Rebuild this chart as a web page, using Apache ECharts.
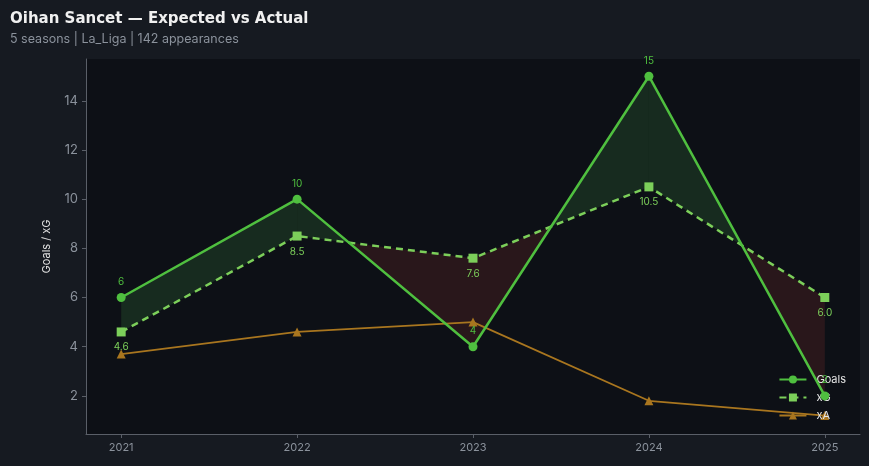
<!DOCTYPE html>
<html><head><meta charset="utf-8">
<script src="https://cdn.jsdelivr.net/npm/echarts@6/dist/echarts.min.js"></script>
<style>html,body{margin:0;padding:0;background:#161a21;}#c{width:869px;height:466px;}</style>
</head><body><div id="c"></div>
<script>
var seasons = [2021, 2022, 2023, 2024, 2025];
var goals = [6, 10, 4, 15, 2];
var xg = [4.6, 8.5, 7.6, 10.5, 6.0];
var xa = [3.7, 4.6, 5.0, 1.8, 1.2];
var yTicks = [2, 4, 6, 8, 10, 12, 14];

var chart = echarts.init(document.getElementById('c'));
function pairs(arr){ return seasons.map(function(s,i){ return [s, arr[i]]; }); }

function fillRender(params, api){
  var children = [];
  function pt(x,y){ return api.coord([x,y]); }
  for (var i=0;i<seasons.length-1;i++){
    var x0=seasons[i], x1=seasons[i+1];
    var g0=goals[i], g1=goals[i+1], e0=xg[i], e1=xg[i+1];
    var d0=g0-e0, d1=g1-e1;
    var polys=[];
    if (d0*d1<0){
      var t=d0/(d0-d1), xc=x0+t*(x1-x0), yc=g0+t*(g1-g0);
      polys.push({p:[pt(x0,g0),pt(xc,yc),pt(x0,e0)], pos:d0>0});
      polys.push({p:[pt(xc,yc),pt(x1,g1),pt(x1,e1)], pos:d1>0});
    } else {
      polys.push({p:[pt(x0,g0),pt(x1,g1),pt(x1,e1),pt(x0,e0)], pos:(d0+d1)>0});
    }
    polys.forEach(function(o){
      children.push({type:'polygon', shape:{points:o.p},
        style:{fill:o.pos?'rgba(76,175,80,0.17)':'rgba(200,70,60,0.15)', stroke:null}});
    });
  }
  return {type:'group', children:children};
}

chart.setOption({
  backgroundColor:'#161a21',
  animation:false,
  title:{text:'Oihan Sancet — Expected vs Actual', left:5, top:7,
    textStyle:{color:'#f0f0f0', fontSize:15, fontWeight:'bold', fontFamily:'DejaVu Sans'},
    subtext:'5 seasons | La_Liga | 142 appearances', itemGap:6,
    subtextStyle:{color:'#8b929c', fontSize:12.5, fontFamily:'Inter'}},
  grid:{left:86, right:9, top:59, bottom:32, show:true, backgroundColor:'#0d1016', borderWidth:0},
  legend:{right:18, bottom:40, orient:'vertical', itemGap:7, itemWidth:27, itemHeight:10,
    textStyle:{color:'#e6e6e6', fontSize:11, fontFamily:'Inter', padding:[0,0,0,5]},
    data:['Goals','xG','xA']},
  xAxis:{type:'value', min:2020.8, max:2025.2,
    axisLine:{lineStyle:{color:'#5a5f68'}},
    axisTick:{customValues:seasons, length:4, lineStyle:{color:'#5a5f68'}},
    axisLabel:{customValues:seasons, color:'#8b929c', fontSize:11, fontFamily:'Inter', formatter:function(v){return String(v);}},
    splitLine:{show:false}},
  yAxis:{type:'value', min:0.45, max:15.7, name:'Goals / xG', nameLocation:'middle', nameGap:34,
    nameTextStyle:{color:'#e0e0e0', fontSize:11, fontFamily:'Inter'},
    axisLine:{show:true, lineStyle:{color:'#5a5f68'}},
    axisTick:{show:true, customValues:yTicks, length:4, lineStyle:{color:'#5a5f68'}},
    axisLabel:{customValues:yTicks, color:'#8b929c', fontSize:13, fontFamily:'Inter'},
    splitLine:{show:false}},
  series:[
    {type:'custom', name:'fill', renderItem:fillRender, data:[[2021,0]], silent:true, z:1},
    {name:'Goals', type:'line', data:pairs(goals), symbol:'circle', symbolSize:9, z:4,
      lineStyle:{color:'#4fbf3f', width:2.5}, itemStyle:{color:'#4fbf3f'},
      label:{show:true, position:'top', distance:6, color:'#4fbf3f', fontSize:10, fontFamily:'Inter'}},
    {name:'xG', type:'line', data:pairs(xg), symbol:'rect', symbolSize:9, z:3,
      lineStyle:{color:'#7ccf5a', width:2.5, type:[7,5]}, itemStyle:{color:'#7ccf5a'},
      label:{show:true, position:'bottom', distance:6, color:'#7ccf5a', fontSize:10, fontFamily:'Inter',
        formatter:function(p){return p.value[1].toFixed(1);}}},
    {name:'xA', type:'line', data:pairs(xa), symbol:'triangle', symbolSize:9, z:2,
      lineStyle:{color:'#a9761f', width:1.8}, itemStyle:{color:'#a9761f'}}
  ]
});
</script></body></html>
